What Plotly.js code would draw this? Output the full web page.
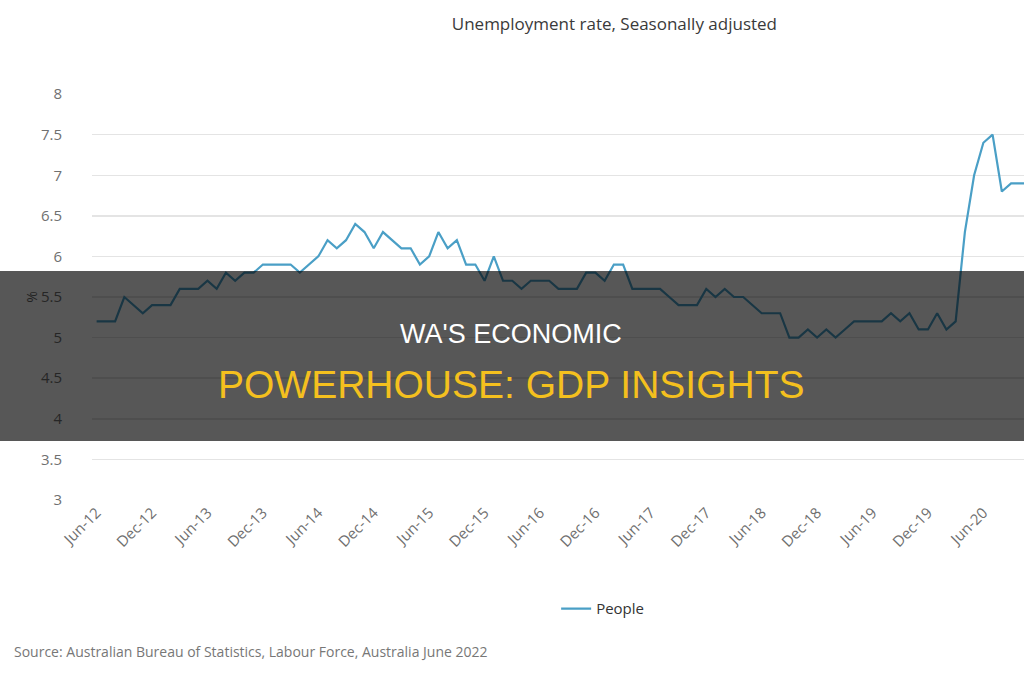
<!DOCTYPE html>
<html>
<head>
<meta charset="utf-8">
<script src="https://cdn.plot.ly/plotly-3.0.1.min.js"></script>
<style>
  html, body { margin: 0; padding: 0; background: #ffffff; overflow: hidden; }
  #chart { width: 1024px; height: 680px; }
</style>
</head>
<body>
<div id="chart"></div>
<script>
// Monthly categories (Jun-12 .. Nov-20)
const months = [
  "Jun-12","Jul-12","Aug-12","Sep-12","Oct-12","Nov-12","Dec-12",
  "Jan-13","Feb-13","Mar-13","Apr-13","May-13","Jun-13","Jul-13","Aug-13","Sep-13","Oct-13","Nov-13","Dec-13",
  "Jan-14","Feb-14","Mar-14","Apr-14","May-14","Jun-14","Jul-14","Aug-14","Sep-14","Oct-14","Nov-14","Dec-14",
  "Jan-15","Feb-15","Mar-15","Apr-15","May-15","Jun-15","Jul-15","Aug-15","Sep-15","Oct-15","Nov-15","Dec-15",
  "Jan-16","Feb-16","Mar-16","Apr-16","May-16","Jun-16","Jul-16","Aug-16","Sep-16","Oct-16","Nov-16","Dec-16",
  "Jan-17","Feb-17","Mar-17","Apr-17","May-17","Jun-17","Jul-17","Aug-17","Sep-17","Oct-17","Nov-17","Dec-17",
  "Jan-18","Feb-18","Mar-18","Apr-18","May-18","Jun-18","Jul-18","Aug-18","Sep-18","Oct-18","Nov-18","Dec-18",
  "Jan-19","Feb-19","Mar-19","Apr-19","May-19","Jun-19","Jul-19","Aug-19","Sep-19","Oct-19","Nov-19","Dec-19",
  "Jan-20","Feb-20","Mar-20","Apr-20","May-20","Jun-20","Jul-20","Aug-20","Sep-20","Oct-20","Nov-20"
];

// Unemployment rate, People (%)
const people = [
  5.2, 5.2, 5.2, 5.5, 5.4, 5.3, 5.4,
  5.4, 5.4, 5.6, 5.6, 5.6, 5.7, 5.6, 5.8, 5.7, 5.8, 5.8, 5.9,
  5.9, 5.9, 5.9, 5.8, 5.9, 6.0, 6.2, 6.1, 6.2, 6.4, 6.3, 6.1,
  6.3, 6.2, 6.1, 6.1, 5.9, 6.0, 6.3, 6.1, 6.2, 5.9, 5.9, 5.7,
  6.0, 5.7, 5.7, 5.6, 5.7, 5.7, 5.7, 5.6, 5.6, 5.6, 5.8, 5.8,
  5.7, 5.9, 5.9, 5.6, 5.6, 5.6, 5.6, 5.5, 5.4, 5.4, 5.4, 5.6,
  5.5, 5.6, 5.5, 5.5, 5.4, 5.3, 5.3, 5.3, 5.0, 5.0, 5.1, 5.0,
  5.1, 5.0, 5.1, 5.2, 5.2, 5.2, 5.2, 5.3, 5.2, 5.3, 5.1, 5.1,
  5.3, 5.1, 5.2, 6.3, 7.0, 7.4, 7.5, 6.8, 6.9, 6.9, 6.9
];

// Axis tick labels
const xTicks = ["Jun-12","Dec-12","Jun-13","Dec-13","Jun-14","Dec-14","Jun-15","Dec-15",
                "Jun-16","Dec-16","Jun-17","Dec-17","Jun-18","Dec-18","Jun-19","Dec-19","Jun-20"];
const yTicks = [3, 3.5, 4, 4.5, 5, 5.5, 6, 6.5, 7, 7.5, 8];

const seriesName = "People";
const chartTitle = "Unemployment rate, Seasonally adjusted";
const yTitle = "%";
const sourceText = "Source: Australian Bureau of Statistics, Labour Force, Australia June 2022";
const bannerLine1 = "WA'S ECONOMIC";
const bannerLine2 = "POWERHOUSE: GDP INSIGHTS";

const trace = {
  type: "scatter",
  mode: "lines",
  x: months,
  y: people,
  name: seriesName,
  line: { color: "#4a9fc6", width: 2.2 },
  showlegend: true
};

const layout = {
  width: 1024,
  height: 680,
  autosize: false,
  margin: { l: 92, r: 0, t: 94, b: 180 },
  paper_bgcolor: "#ffffff",
  plot_bgcolor: "#ffffff",
  font: { family: "Open Sans, sans-serif", color: "#666666" },
  title: {
    text: chartTitle,
    xref: "container", x: 0.6, xanchor: "center",
    yref: "container", y: 0.965, yanchor: "middle",
    font: { family: "Open Sans, sans-serif", size: 17, color: "#3a3a3a" }
  },
  xaxis: {
    type: "category",
    categoryorder: "array",
    categoryarray: months,
    range: [-0.5, 100.4],
    tickmode: "array",
    tickvals: xTicks,
    ticktext: xTicks,
    tickangle: -45,
    tickfont: { size: 15, color: "#707070" },
    showgrid: false,
    showline: false,
    zeroline: false,
    ticks: ""
  },
  yaxis: {
    range: [2.999, 8.001],
    tickmode: "array",
    tickvals: yTicks,
    ticktext: yTicks.map(String),
    tickfont: { size: 15, color: "#707070" },
    gridcolor: "#e4e4e4",
    gridwidth: 1.5,
    zeroline: false,
    showline: false,
    ticks: "",
    ticklabelstandoff: 29,
    title: { text: yTitle, standoff: 0, font: { size: 14, color: "#222222" } }
  },
  legend: {
    orientation: "h",
    x: 0.498, xanchor: "left",
    y: -0.268, yanchor: "middle",
    font: { size: 15, color: "#333333" },
    bgcolor: "rgba(0,0,0,0)"
  },
  shapes: [
    {
      type: "rect",
      xref: "paper", yref: "paper",
      x0: -0.11, x1: 1.01,
      y0: 0.1453, y1: 0.564,
      fillcolor: "rgba(0,0,0,0.66)",
      line: { width: 0 },
      layer: "above"
    }
  ],
  annotations: [
    {
      text: sourceText,
      xref: "paper", yref: "paper",
      x: -0.0858, xanchor: "left",
      y: -0.372, yanchor: "middle",
      showarrow: false,
      font: { size: 14, color: "#777777" }
    },
    {
      text: bannerLine1,
      xref: "paper", yref: "paper",
      x: 0.4496, xanchor: "center",
      y: 0.4089, yanchor: "middle",
      showarrow: false,
      font: { family: "Liberation Sans, Arial, sans-serif", size: 27, color: "#ffffff" }
    },
    {
      text: bannerLine2,
      xref: "paper", yref: "paper",
      x: 0.4501, xanchor: "center",
      y: 0.2857, yanchor: "middle",
      showarrow: false,
      font: { family: "Liberation Sans, Arial, sans-serif", size: 39, color: "#f4c01e" }
    }
  ]
};

Plotly.newPlot("chart", [trace], layout, { staticPlot: true, displayModeBar: false });
</script>
</body>
</html>
